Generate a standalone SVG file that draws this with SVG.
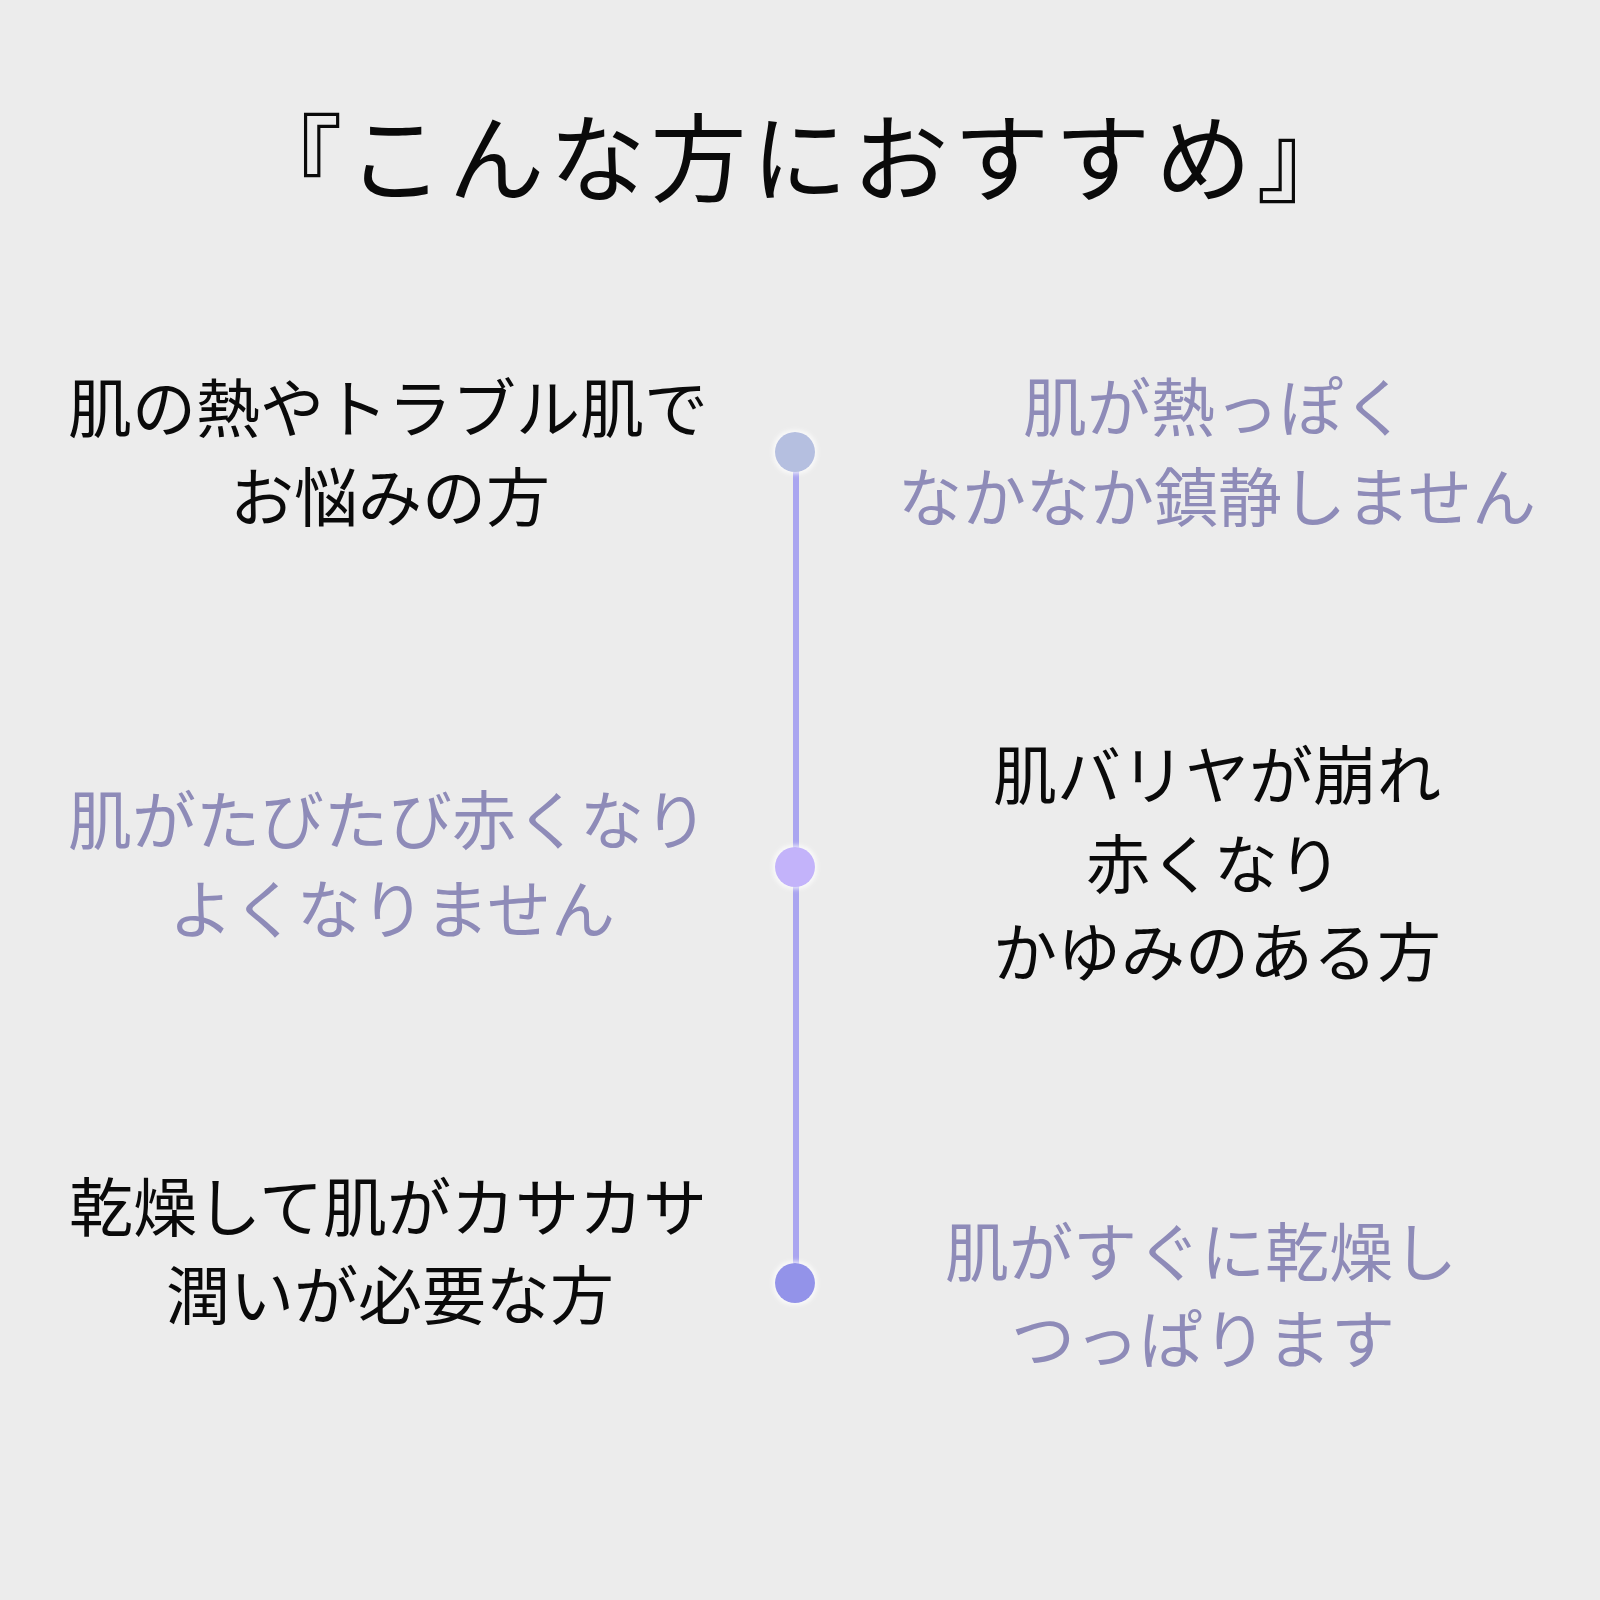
<svg xmlns="http://www.w3.org/2000/svg" width="1600" height="1600" viewBox="0 0 1600 1600">
<defs>
<style>
.t{font-family:"Noto Sans CJK JP","Noto Sans CJK SC",sans-serif;font-size:64px;text-anchor:middle}
.dk{fill:#0a0a0a}
.lt{fill:#8e8bb8}
.title{font-family:"Liberation Serif","Noto Sans CJK JP",serif;font-size:96px;letter-spacing:5px;text-anchor:middle;fill:#0a0a0a}
</style>
<filter id="glow" x="-50%" y="-50%" width="200%" height="200%">
<feMorphology in="SourceAlpha" operator="dilate" radius="2" result="d"/>
<feGaussianBlur in="d" stdDeviation="2" result="b"/>
<feFlood flood-color="#ffffff" flood-opacity="0.7"/>
<feComposite in2="b" operator="in" result="g"/>
<feMerge><feMergeNode in="g"/><feMergeNode in="SourceGraphic"/></feMerge>
</filter>
</defs>
<rect width="1600" height="1600" fill="#ececec"/>
<g id="title"><text class="title" x="802" y="194">『こんな方におすすめ』</text></g>
<g id="connectors">
<line x1="796" y1="452" x2="796" y2="1283" stroke="#aaa5f0" stroke-width="6"/>
</g>
<g id="node1">
<circle cx="795" cy="452" r="20" fill="#b5bfe0" filter="url(#glow)"/>
<text class="t dk" x="388" y="432">肌の熱やトラブル肌で</text>
<text class="t dk" x="390" y="521">お悩みの方</text>
<text class="t lt" x="1215" y="431">肌が熱っぽく</text>
<text class="t lt" x="1217" y="521">なかなか鎮静しません</text>
</g>
<g id="node2">
<circle cx="795" cy="867" r="20" fill="#c3b3fa" filter="url(#glow)"/>
<text class="t lt" x="388" y="844">肌がたびたび赤くなり</text>
<text class="t lt" x="392" y="933">よくなりません</text>
<text class="t dk" x="1217" y="799">肌バリヤが崩れ</text>
<text class="t dk" x="1214" y="888">赤くなり</text>
<text class="t dk" x="1217" y="976">かゆみのある方</text>
</g>
<g id="node3">
<circle cx="795" cy="1283" r="20" fill="#9393e9" filter="url(#glow)"/>
<text class="t dk" x="388" y="1231">乾燥して肌がカサカサ</text>
<text class="t dk" x="390" y="1319">潤いが必要な方</text>
<text class="t lt" x="1201" y="1276">肌がすぐに乾燥し</text>
<text class="t lt" x="1203" y="1363">つっぱります</text>
</g>
</svg>
